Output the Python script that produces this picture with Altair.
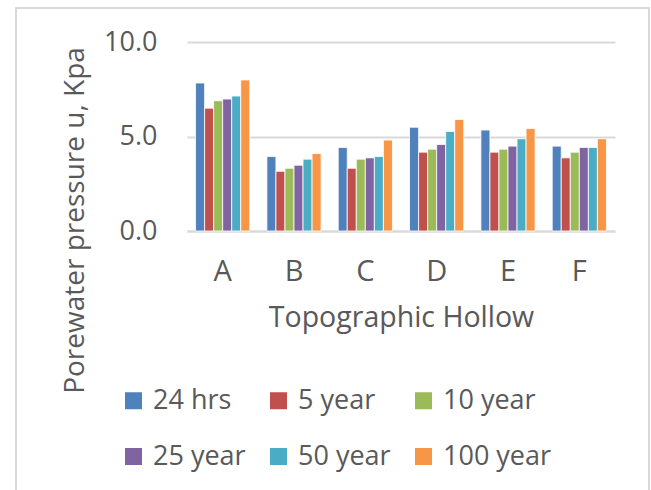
import altair as alt
import pandas as pd

# Topographic hollows and storm return periods
hollows = ["A", "B", "C", "D", "E", "F"]
periods = ["24 hrs", "5 year", "10 year", "25 year", "50 year", "100 year"]

# Porewater pressure (kPa) for each return period, per hollow A..F
u_24hrs = [7.83, 3.94, 4.42, 5.49, 5.34, 4.49]
u_5yr = [6.50, 3.16, 3.32, 4.17, 4.17, 3.87]
u_10yr = [6.89, 3.32, 3.80, 4.33, 4.33, 4.17]
u_25yr = [6.98, 3.48, 3.87, 4.58, 4.49, 4.42]
u_50yr = [7.14, 3.80, 3.94, 5.27, 4.88, 4.42]
u_100yr = [7.99, 4.10, 4.81, 5.90, 5.42, 4.88]

colors = ["#4F81BD", "#C0504D", "#9BBB59", "#8064A2", "#4BACC6", "#F79646"]

series = [u_24hrs, u_5yr, u_10yr, u_25yr, u_50yr, u_100yr]
rows = []
for period, vals in zip(periods, series):
    for hollow, v in zip(hollows, vals):
        rows.append({"hollow": hollow, "period": period, "u": v})
df = pd.DataFrame(rows)

FONT = "Open Sans"
GREY = "#595959"
W, H = 428, 189

bars = alt.Chart(df).mark_bar(stroke="white", strokeWidth=0.8).encode(
    x=alt.X(
        "hollow:N",
        sort=hollows,
        scale=alt.Scale(paddingInner=0.24, paddingOuter=0.12),
        axis=alt.Axis(
            title="Topographic Hollow",
            labelAngle=0,
            labelFontSize=29,
            labelColor=GREY,
            labelFont=FONT,
            labelBaseline="alphabetic",
            labelPadding=49,
            ticks=False,
            domainColor="#D9D9D9",
            domainWidth=2,
            titleFontSize=28.5,
            titleFont=FONT,
            titleColor=GREY,
            titleFontWeight="normal",
            titleBaseline="alphabetic",
            titleX=W / 2,
            titleY=95,
        ),
    ),
    xOffset=alt.XOffset("period:N", sort=periods),
    y=alt.Y(
        "u:Q",
        scale=alt.Scale(domain=[0, 10]),
        axis=alt.Axis(
            title="Porewater pressure u, Kpa",
            values=[0, 5, 10],
            format=".1f",
            labelFontSize=27,
            labelColor=GREY,
            labelFont=FONT,
            labelPadding=30,
            ticks=False,
            domain=False,
            gridColor="#D9D9D9",
            gridWidth=2,
            titleFontSize=28,
            titleFont=FONT,
            titleColor=GREY,
            titleFontWeight="normal",
            titleAngle=270,
            titleAlign="center",
            titleBaseline="alphabetic",
            titleX=-104,
            titleY=178,
        ),
    ),
    color=alt.Color(
        "period:N",
        sort=periods,
        scale=alt.Scale(domain=periods, range=colors),
        legend=alt.Legend(
            title=None,
            orient="none",
            legendX=-67,
            legendY=345,
            direction="horizontal",
            columns=3,
            gridAlign="all",
            symbolType="square",
            symbolSize=289,
            symbolStrokeWidth=0,
            labelFontSize=27,
            labelFont=FONT,
            labelColor=GREY,
            labelOffset=6,
            columnPadding=3,
            rowPadding=28,
            padding=0,
        ),
    ),
)

# light grey outline around the chart area
frame = alt.Chart(alt.Data(values=[{}])).mark_rect(
    fill="white", fillOpacity=0, stroke="#D9D9D9", strokeWidth=2
).encode(
    x=alt.value(-171), x2=alt.value(462), y=alt.value(-34), y2=alt.value(470)
)

chart = alt.layer(frame, bars).properties(
    width=W,
    height=H,
    padding={"left": 187, "top": 42, "right": 36, "bottom": 259},
    autosize=alt.AutoSizeParams(type="none"),
    background="white",
).configure_view(stroke=None)

chart.save("out.html", embed_options={"renderer": "svg", "actions": False})
